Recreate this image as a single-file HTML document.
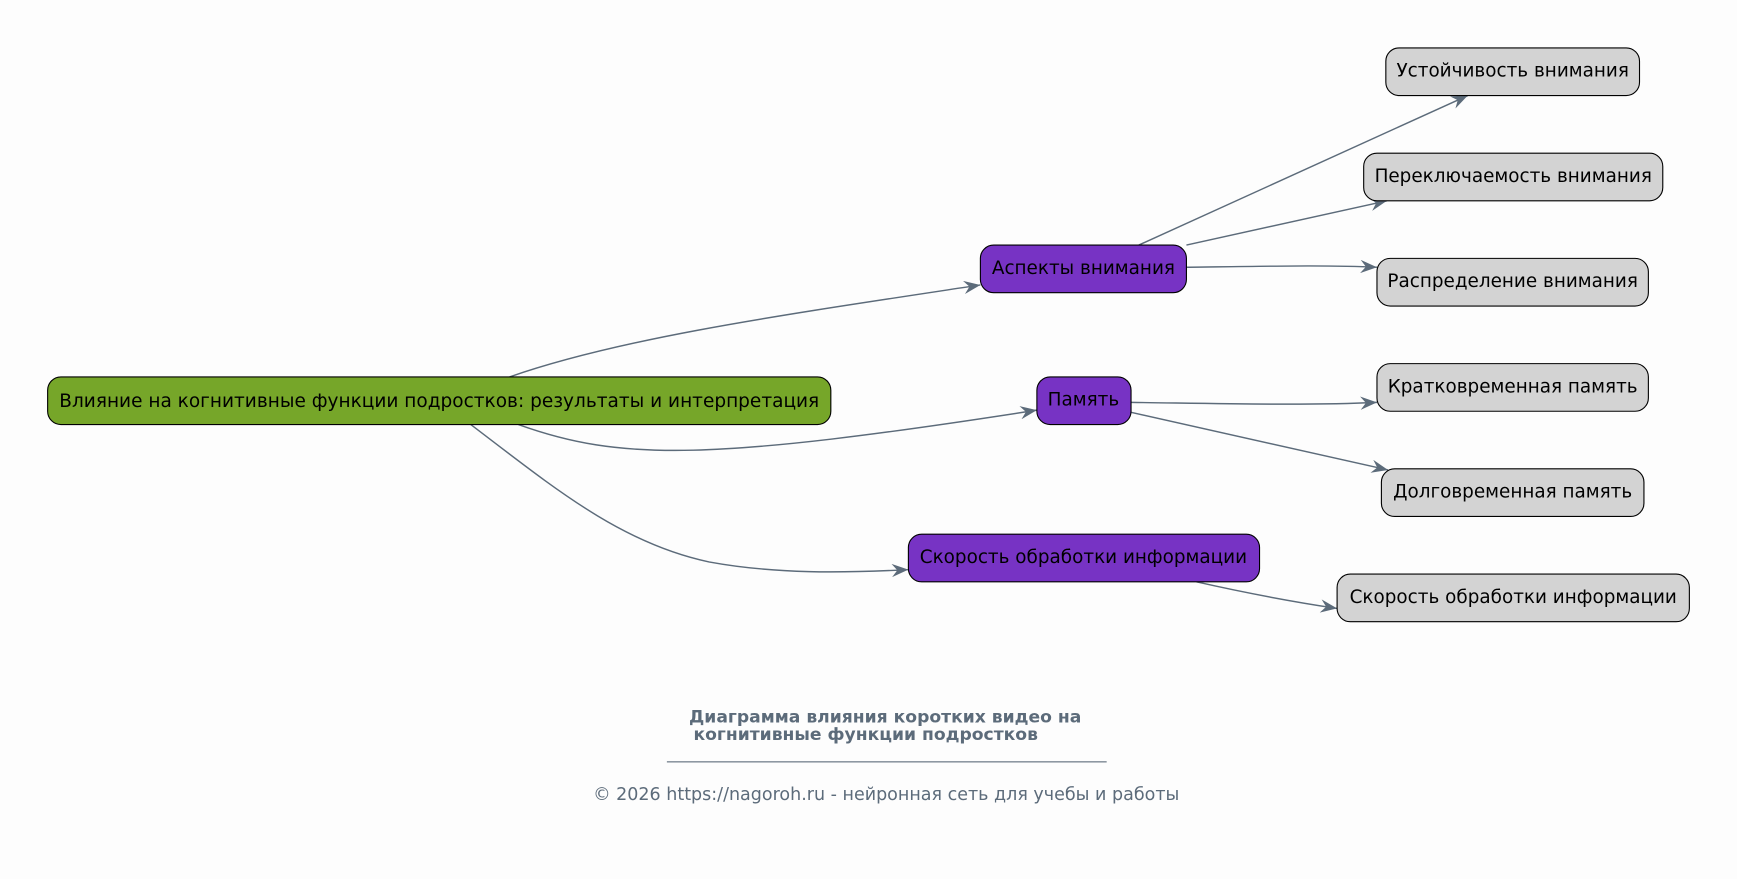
<!DOCTYPE html>
<html><head><meta charset="utf-8"><style>
html,body{margin:0;padding:0;background:#fdfdfd;}
svg{display:block}
text{font-family:"DejaVu Sans","Liberation Sans",sans-serif;}
</style></head><body>
<svg width="1737" height="879" viewBox="0 0 1568 793" xmlns="http://www.w3.org/2000/svg">
<defs>
<marker id="a" viewBox="0 0 16 12" refX="15" refY="6" markerWidth="16" markerHeight="12" markerUnits="userSpaceOnUse" orient="auto">
<path d="M0,0 L15,6 L0,12 L5,6 Z" fill="#5c6b7a"/>
</marker>
</defs>
<rect width="1568" height="793" fill="#fdfdfd"/>
<g fill="none" stroke="#5c6b7a" stroke-width="1.3" marker-end="url(#a)">
<path d="M460,340 C560,305 700,285 885,257"/>
<path d="M468,383 C560,416 640,416 936,370"/>
<path d="M425,383 C500,440 560,490 640,507 C700,518 760,517 820,514"/>
<path d="M1028,221 L1325,86"/>
<path d="M1071,221 L1252,181"/>
<path d="M1071,241 C1150,240 1200,239 1243,241"/>
<path d="M1021,363 C1100,364 1180,366 1243,363"/>
<path d="M1021,372 L1253,424"/>
<path d="M1080,525 C1120,534 1160,542 1207,549"/>
</g>
<g stroke="#000" stroke-width="1">
<rect x="43" y="340" width="707" height="43" rx="12" fill="#76a629"/>
<rect x="885" y="221" width="186" height="43" rx="12" fill="#7733c4"/>
<rect x="936" y="340" width="85" height="43" rx="12" fill="#7733c4"/>
<rect x="820" y="482" width="317" height="43" rx="12" fill="#7733c4"/>
<rect x="1251" y="43" width="229" height="43" rx="12" fill="#d3d3d3"/>
<rect x="1231" y="138" width="270" height="43" rx="12" fill="#d3d3d3"/>
<rect x="1243" y="233" width="245" height="43" rx="12" fill="#d3d3d3"/>
<rect x="1243" y="328" width="245" height="43" rx="12" fill="#d3d3d3"/>
<rect x="1247" y="423" width="237" height="43" rx="12" fill="#d3d3d3"/>
<rect x="1207" y="518" width="318" height="43" rx="12" fill="#d3d3d3"/>
</g>
<g font-size="16.6" fill="#000" text-anchor="middle">
<text x="396.5" y="367" textLength="686" lengthAdjust="spacingAndGlyphs">Влияние на когнитивные функции подростков: результаты и интерпретация</text>
<text x="978" y="247">Аспекты внимания</text>
<text x="978" y="366">Память</text>
<text x="978" y="508">Скорость обработки информации</text>
<text x="1365.5" y="69">Устойчивость внимания</text>
<text x="1366" y="164">Переключаемость внимания</text>
<text x="1365.5" y="259">Распределение внимания</text>
<text x="1365.5" y="354">Кратковременная память</text>
<text x="1365.5" y="449">Долговременная память</text>
<text x="1366" y="544">Скорость обработки информации</text>
</g>
<g fill="#5c6b7a">
<text x="622" y="652" font-size="15.5" font-weight="bold">Диаграмма влияния коротких видео на</text>
<text x="626" y="668" font-size="15.5" font-weight="bold">когнитивные функции подростков</text>
<rect x="602" y="687" width="397" height="1"/>
<text x="800" y="722" font-size="15.8" text-anchor="middle">© 2026 https://nagoroh.ru - нейронная сеть для учебы и работы</text>
</g>
</svg>
</body></html>
